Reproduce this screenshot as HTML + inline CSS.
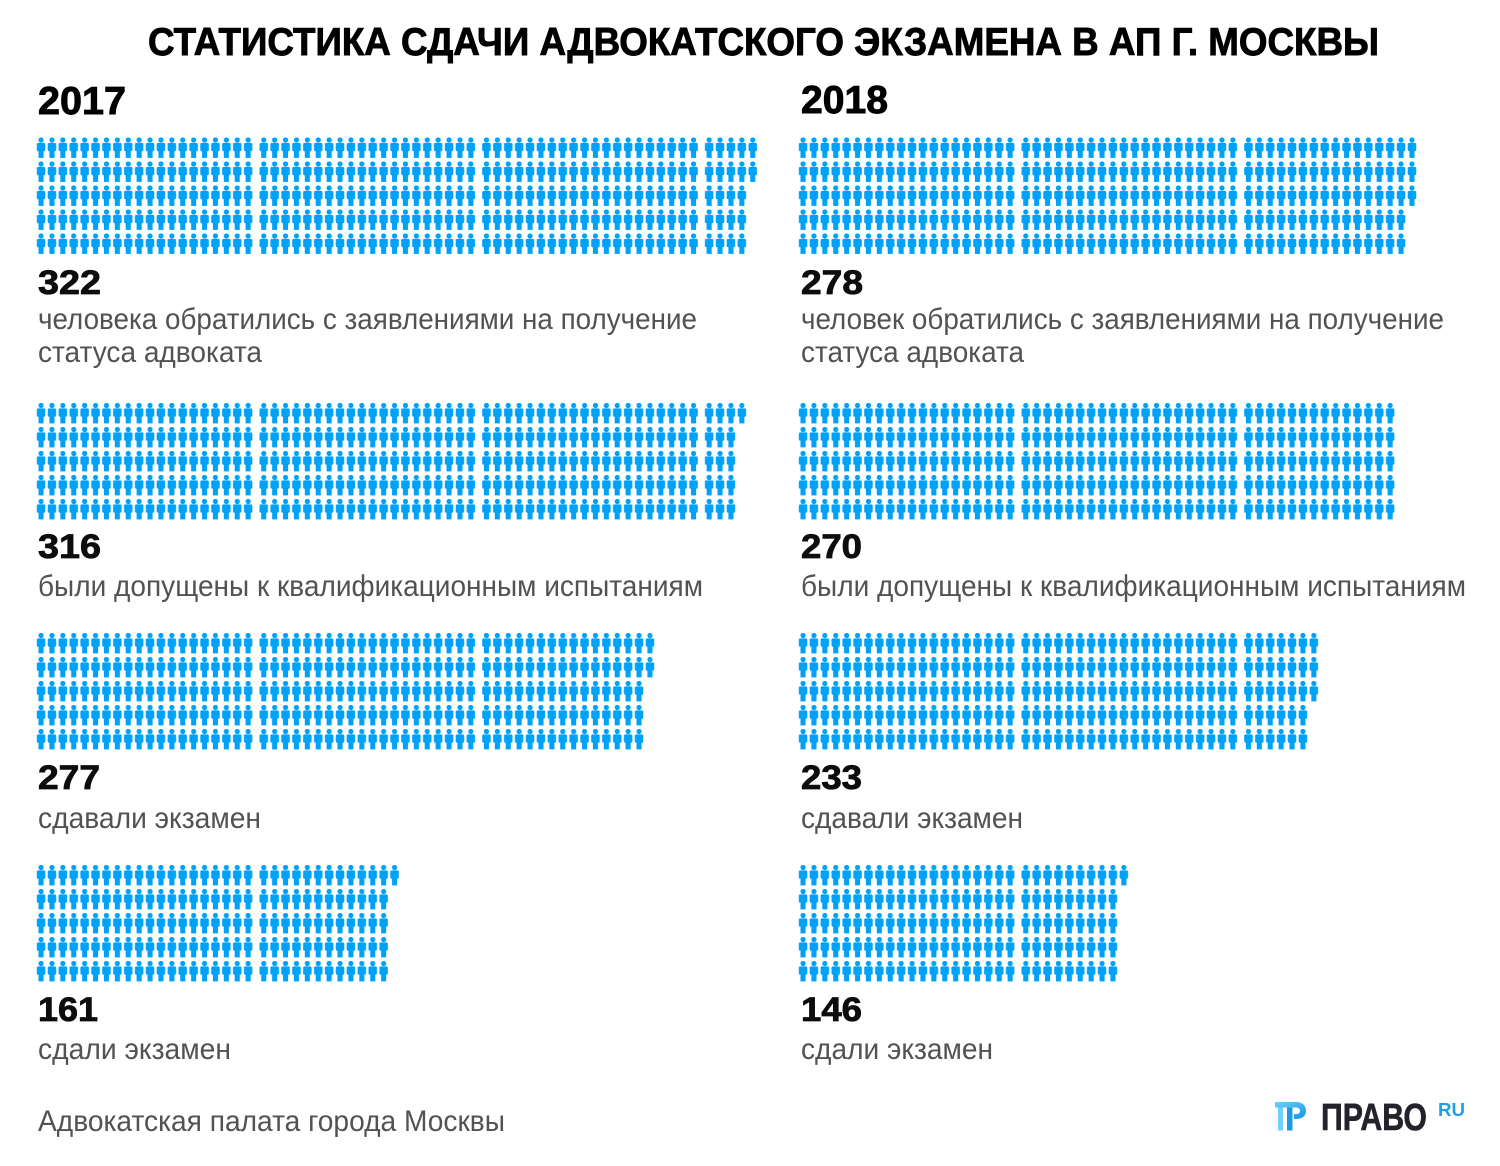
<!DOCTYPE html>
<html>
<head>
<meta charset="utf-8">
<style>
  html, body { margin: 0; padding: 0; background: #ffffff; }
  body { width: 1500px; height: 1166px; overflow: hidden; }
  svg { display: block; }
  text { font-family: "Liberation Sans", "DejaVu Sans", sans-serif; }
  .ttl { font-weight: bold; fill: #000; stroke: #000; stroke-width: 0.9px; }
  .num { font-weight: bold; fill: #0d0d0d; stroke: #0d0d0d; stroke-width: 0.8px; font-size: 34px; }
  .dsc { fill: #525252; font-size: 30px; }
</style>
</head>
<body>
<svg width="1500" height="1166" viewBox="0 0 1500 1166" xmlns="http://www.w3.org/2000/svg">
  <defs>
    <pattern id="p" patternUnits="userSpaceOnUse" x="0" y="0" width="10.9" height="24">
      <circle cx="5.45" cy="2.5" r="2.6" fill="#00a2f8"/>
      <rect x="1.2" y="5.4" width="8.5" height="8.4" rx="1.5" fill="#00a2f8"/>
      <rect x="2.9" y="12.5" width="5.1" height="7.9" fill="#00a2f8"/>
    </pattern>
    <linearGradient id="lg" x1="0" y1="0" x2="1" y2="1">
      <stop offset="0" stop-color="#6fd0fb"/>
      <stop offset="1" stop-color="#1596e6"/>
    </linearGradient>
  </defs>

  <!-- Title -->
  <text class="ttl" x="148" y="55" font-size="39" textLength="1231" lengthAdjust="spacingAndGlyphs">СТАТИСТИКА СДАЧИ АДВОКАТСКОГО ЭКЗАМЕНА В АП Г. МОСКВЫ</text>

  <!-- Years -->
  <text class="ttl" x="38" y="114" font-size="39" textLength="88" lengthAdjust="spacingAndGlyphs">2017</text>
  <text class="ttl" x="801" y="113" font-size="39" textLength="87" lengthAdjust="spacingAndGlyphs">2018</text>

  <!-- ===== Block 1 (y 137.5) ===== -->
  <g transform="translate(35.6,137.5)"><rect x="0" y="0" width="218" height="120" fill="url(#p)"/></g>
  <g transform="translate(258.3,137.5)"><rect x="0" y="0" width="218" height="120" fill="url(#p)"/></g>
  <g transform="translate(481,137.5)"><rect x="0" y="0" width="218" height="120" fill="url(#p)"/></g>
  <g transform="translate(703.7,137.5)"><rect x="0" y="0" width="43.6" height="120" fill="url(#p)"/><rect x="43.6" y="0" width="10.9" height="48" fill="url(#p)"/></g>
  <g transform="translate(797.6,137.5)"><rect x="0" y="0" width="218" height="120" fill="url(#p)"/></g>
  <g transform="translate(1020.3,137.5)"><rect x="0" y="0" width="218" height="120" fill="url(#p)"/></g>
  <g transform="translate(1243,137.5)"><rect x="0" y="0" width="163.5" height="120" fill="url(#p)"/><rect x="163.5" y="0" width="10.9" height="72" fill="url(#p)"/></g>

  <text class="num" x="38" y="294" textLength="63" lengthAdjust="spacingAndGlyphs">322</text>
  <text class="num" x="801" y="294" textLength="62" lengthAdjust="spacingAndGlyphs">278</text>
  <text class="dsc" x="38" y="329" textLength="659" lengthAdjust="spacingAndGlyphs">человека обратились с заявлениями на получение</text>
  <text class="dsc" x="38" y="362" textLength="224" lengthAdjust="spacingAndGlyphs">статуса адвоката</text>
  <text class="dsc" x="801" y="329" textLength="643" lengthAdjust="spacingAndGlyphs">человек обратились с заявлениями на получение</text>
  <text class="dsc" x="801" y="362" textLength="223" lengthAdjust="spacingAndGlyphs">статуса адвоката</text>

  <!-- ===== Block 2 (y 403) ===== -->
  <g transform="translate(35.6,403)"><rect x="0" y="0" width="218" height="120" fill="url(#p)"/></g>
  <g transform="translate(258.3,403)"><rect x="0" y="0" width="218" height="120" fill="url(#p)"/></g>
  <g transform="translate(481,403)"><rect x="0" y="0" width="218" height="120" fill="url(#p)"/></g>
  <g transform="translate(703.7,403)"><rect x="0" y="0" width="32.7" height="120" fill="url(#p)"/><rect x="32.7" y="0" width="10.9" height="24" fill="url(#p)"/></g>
  <g transform="translate(797.6,403)"><rect x="0" y="0" width="218" height="120" fill="url(#p)"/></g>
  <g transform="translate(1020.3,403)"><rect x="0" y="0" width="218" height="120" fill="url(#p)"/></g>
  <g transform="translate(1243,403)"><rect x="0" y="0" width="152.6" height="120" fill="url(#p)"/></g>

  <text class="num" x="38" y="558" textLength="63" lengthAdjust="spacingAndGlyphs">316</text>
  <text class="num" x="801" y="558" textLength="61" lengthAdjust="spacingAndGlyphs">270</text>
  <text class="dsc" x="38" y="596" textLength="665" lengthAdjust="spacingAndGlyphs">были допущены к квалификационным испытаниям</text>
  <text class="dsc" x="801" y="596" textLength="665" lengthAdjust="spacingAndGlyphs">были допущены к квалификационным испытаниям</text>

  <!-- ===== Block 3 (y 633) ===== -->
  <g transform="translate(35.6,633)"><rect x="0" y="0" width="218" height="120" fill="url(#p)"/></g>
  <g transform="translate(258.3,633)"><rect x="0" y="0" width="218" height="120" fill="url(#p)"/></g>
  <g transform="translate(481,633)"><rect x="0" y="0" width="163.5" height="120" fill="url(#p)"/><rect x="163.5" y="0" width="10.9" height="48" fill="url(#p)"/></g>
  <g transform="translate(797.6,633)"><rect x="0" y="0" width="218" height="120" fill="url(#p)"/></g>
  <g transform="translate(1020.3,633)"><rect x="0" y="0" width="218" height="120" fill="url(#p)"/></g>
  <g transform="translate(1243,633)"><rect x="0" y="0" width="65.4" height="120" fill="url(#p)"/><rect x="65.4" y="0" width="10.9" height="72" fill="url(#p)"/></g>

  <text class="num" x="38" y="789" textLength="62" lengthAdjust="spacingAndGlyphs">277</text>
  <text class="num" x="801" y="789" textLength="61" lengthAdjust="spacingAndGlyphs">233</text>
  <text class="dsc" x="38" y="828" textLength="223" lengthAdjust="spacingAndGlyphs">сдавали экзамен</text>
  <text class="dsc" x="801" y="828" textLength="222" lengthAdjust="spacingAndGlyphs">сдавали экзамен</text>

  <!-- ===== Block 4 (y 865) ===== -->
  <g transform="translate(35.6,865)"><rect x="0" y="0" width="218" height="120" fill="url(#p)"/></g>
  <g transform="translate(258.3,865)"><rect x="0" y="0" width="130.8" height="120" fill="url(#p)"/><rect x="130.8" y="0" width="10.9" height="24" fill="url(#p)"/></g>
  <g transform="translate(797.6,865)"><rect x="0" y="0" width="218" height="120" fill="url(#p)"/></g>
  <g transform="translate(1020.3,865)"><rect x="0" y="0" width="98.1" height="120" fill="url(#p)"/><rect x="98.1" y="0" width="10.9" height="24" fill="url(#p)"/></g>

  <text class="num" x="38" y="1021" textLength="60" lengthAdjust="spacingAndGlyphs">161</text>
  <text class="num" x="801" y="1021" textLength="61" lengthAdjust="spacingAndGlyphs">146</text>
  <text class="dsc" x="38" y="1059" textLength="193" lengthAdjust="spacingAndGlyphs">сдали экзамен</text>
  <text class="dsc" x="801" y="1059" textLength="192" lengthAdjust="spacingAndGlyphs">сдали экзамен</text>

  <!-- Footer -->
  <text class="dsc" x="38" y="1131" textLength="467" lengthAdjust="spacingAndGlyphs">Адвокатская палата города Москвы</text>

  <!-- Logo -->
  <g>
    <path d="M1275,1102 H1296 C1303,1102 1306,1106 1306,1111 C1306,1116 1302,1119 1296,1119 H1294 V1114 H1296 C1298.5,1114 1300,1113 1300,1111 C1300,1109 1298.5,1107.5 1296,1107.5 H1275 Z" fill="url(#lg)"/>
    <rect x="1278" y="1107.5" width="5" height="23" fill="#6fd0fb"/>
    <rect x="1287" y="1107.5" width="5.5" height="23" fill="#1a9be8"/>
  </g>
  <text x="1321" y="1130" font-size="38" font-weight="bold" fill="#23232b" stroke="#23232b" stroke-width="0.6" textLength="106" lengthAdjust="spacingAndGlyphs">ПРАВО</text>
  <text x="1438" y="1116" font-size="18" font-weight="bold" fill="#1f9fe8" textLength="27" lengthAdjust="spacingAndGlyphs">RU</text>
</svg>
</body>
</html>
